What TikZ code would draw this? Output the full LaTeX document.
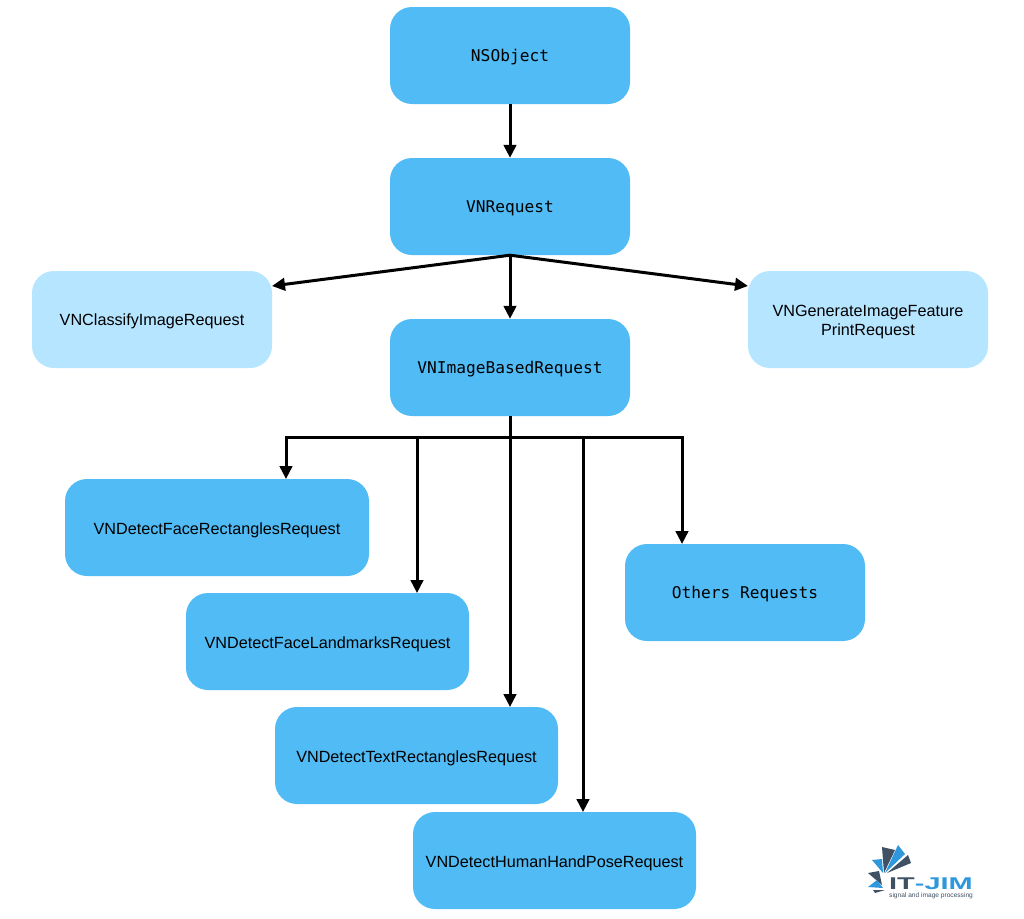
\documentclass[tikz,border=0pt]{standalone}
\usepackage{fontspec}
\usepackage{graphicx}
\setmainfont{Liberation Sans}
\newfontfamily\boxmono{DejaVu Sans Mono}
\usetikzlibrary{arrows.meta}
\definecolor{boxblue}{HTML}{50BBF5}
\definecolor{boxlight}{HTML}{B6E5FF}
\definecolor{logodark}{HTML}{3F5163}
\definecolor{logoblue}{HTML}{2F97DC}
\tikzset{
  x=1pt,y=-1pt,
  basebox/.style={rounded corners=22pt,inner sep=0pt,minimum height=97pt,align=center,text=black},
  dark/.style={basebox,fill=boxblue},
  light/.style={basebox,fill=boxlight},
  wide/.style={minimum width=240pt},
  monolabel/.style={font=\boxmono\fontsize{16.2}{19}\selectfont},
  sanslabel/.style={font=\fontsize{16.2}{20}\selectfont},
  link/.style={draw=black,line width=3pt},
  arrowlink/.style={link,-{Triangle[length=13pt,width=12.5pt]}},
  logotext/.style={inner sep=0pt,anchor=west},
}
\begin{document}
\begin{tikzpicture}
\useasboundingbox (0,0) rectangle (1024,918);
\fill[white] (0,0) rectangle (1024,918);
% boxes
\node[dark,wide] (ns) at (510,55.5) {};
\node[dark,wide] (req) at (510,206.5) {};
\node[light,wide] (cls) at (152,319.5) {};
\node[light,wide] (gen) at (868,319.5) {};
\node[dark,wide] (img) at (510,367.5) {};
\node[dark,minimum width=304pt] (frect) at (217,527.5) {};
\node[dark,minimum width=283pt] (fland) at (327.5,641.5) {};
\node[dark,minimum width=283pt] (trect) at (416.5,755.5) {};
\node[dark,minimum width=283pt] (hand) at (554.5,860.5) {};
\node[dark,wide] (oth) at (745,592.5) {};
% labels
\node[monolabel,inner sep=0pt] (nst) at (510,57) {NSObject};
\node[monolabel,inner sep=0pt] (reqt) at (510,208) {VNRequest};
\node[sanslabel,inner sep=0pt] (clst) at (152,321) {VNClassifyImageRequest};
\node[sanslabel,inner sep=0pt,align=center] (gent) at (868,322) {VNGenerateImageFeature\\[-1pt]PrintRequest};
\node[monolabel,inner sep=0pt] (imgt) at (510,369) {VNImageBasedRequest};
\node[sanslabel,inner sep=0pt] (frectt) at (217,530) {VNDetectFaceRectanglesRequest};
\node[sanslabel,inner sep=0pt] (flandt) at (327.5,644) {VNDetectFaceLandmarksRequest};
\node[sanslabel,inner sep=0pt] (trectt) at (416.5,758) {VNDetectTextRectanglesRequest};
\node[sanslabel,inner sep=0pt] (handt) at (554.5,863) {VNDetectHumanHandPoseRequest};
\node[monolabel,inner sep=0pt] (otht) at (745,594) {Others Requests};
% free ends and bus
\coordinate (clsin) at (272,286);
\coordinate (genin) at (748,286);
\coordinate (bus) at (510,437);
\coordinate (busL) at (286,437);
\coordinate (busA) at (417,437);
\coordinate (busB) at (583,437);
\coordinate (busR) at (682,437);
\coordinate (frectin) at (286,479);
\coordinate (flandin) at (417,593);
\coordinate (trectin) at (510,707);
\coordinate (handin) at (583,812);
\coordinate (othin) at (682,544);
% connectors
\draw[arrowlink] (ns.south) -- (req.north);
\draw[arrowlink] (req.south) -- (img.north);
\draw[arrowlink] (req.south) -- (clsin);
\draw[arrowlink] (req.south) -- (genin);
\draw[link] (img.south) -- (bus);
\draw[link,line cap=rect] (busL) -- (busR);
\draw[arrowlink] (busL) -- (frectin);
\draw[arrowlink] (busA) -- (flandin);
\draw[arrowlink] (bus) -- (trectin);
\draw[arrowlink] (busB) -- (handin);
\draw[arrowlink] (busR) -- (othin);
% logo
\fill[logoblue] (898,845) -- (905,854) -- (885,873) -- cycle;
\fill[logodark] (882,847) -- (895,850) -- (884,873) -- cycle;
\fill[logodark] (908,855) -- (911,863) -- (887,873) -- cycle;
\fill[logoblue] (872,860) -- (882,859) -- (883,873) -- cycle;
\fill[logodark] (868,873) -- (879,871) -- (882,885) -- cycle;
\fill[logoblue] (868,887) -- (877,880) -- (883,888) -- cycle;
\fill[logodark] (873,890) -- (885,890) -- (875,893) -- cycle;
\node[logotext,font=\bfseries\fontsize{17}{17}\selectfont] (logoname) at (889,883.5) {\scalebox{1.7}[1]{\textcolor{logodark}{IT}\textcolor{logoblue}{-JIM}}};
\node[logotext,text=logodark,font=\fontsize{6.6}{7}\selectfont] (logotag) at (889,896) {signal and image processing};
\end{tikzpicture}
\end{document}
